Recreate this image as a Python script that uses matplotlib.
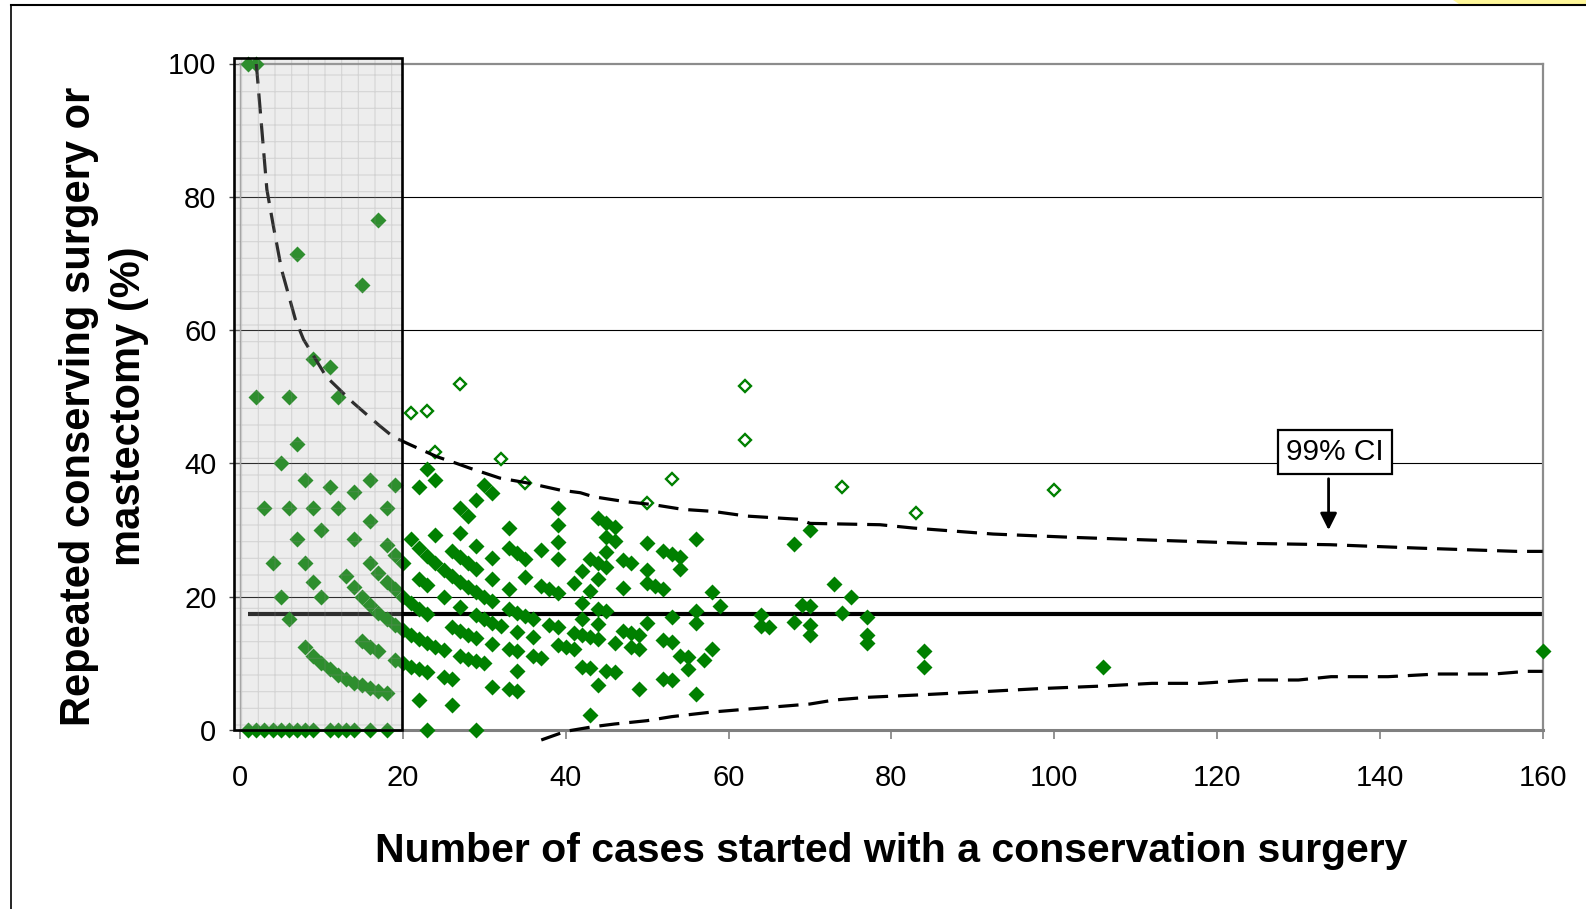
import matplotlib
matplotlib.use("Agg")
import matplotlib.pyplot as plt
from matplotlib.patches import Rectangle, Polygon
from matplotlib.lines import Line2D

plt.rcParams["font.family"] = ["Liberation Sans", "DejaVu Sans"]
plt.rcParams["hatch.linewidth"] = 0.8

# Settings for the figure
FIG_SIZE = (15.86, 9.09)
FIG_DPI = 100
GREEN = "#008000"

# cases inside the funnel (filled diamonds): number of cases / percent
filled_n = [
    1, 2, 17, 7, 15, 9, 11, 2, 6, 12,
    7, 5, 8, 11, 14, 16, 19, 3, 6, 9, 12, 18,
    16, 10, 7, 14, 4, 8, 16, 9, 13, 5, 10, 6,
    14, 15, 16, 17, 18, 19, 20, 18, 19, 20, 17, 18, 19, 20,
    8, 9, 10, 11, 12, 13, 14, 15, 16, 17, 18,
    15, 16, 17, 19, 20,
    1, 2, 3, 4, 5, 6, 7, 8, 9, 11, 12, 13, 14, 16, 18, 23, 29,
    23, 22, 24, 30, 31, 27, 28, 29, 27, 24, 29, 33,
    21, 22, 23, 24, 25, 26, 27, 28, 29, 30, 31,
    26, 27, 28, 29, 31, 31,
    22, 23, 25, 27, 21, 22, 23, 29, 30, 31, 32,
    21, 22, 23, 24, 25, 26, 27, 28, 29, 31,
    21, 22, 23, 27, 28, 29, 30, 25, 26, 31, 22, 26,
    33, 34, 35, 37, 33, 35, 37, 38, 39, 39, 39, 39, 39,
    33, 34, 35, 36, 38, 39, 34, 36, 33, 34, 36, 37, 39, 40, 41, 34, 33, 34,
    44, 45, 46, 45, 46, 45, 43, 44, 45, 42, 44, 41, 43, 47, 48, 47,
    50, 52, 53, 54, 54, 50, 56, 50, 51, 52, 58, 59, 42, 44, 45, 42, 44,
    53, 56, 56, 50, 41, 42, 43, 44, 47, 48, 49, 46, 48, 49, 52, 53,
    58, 57, 55, 54, 55, 42, 43, 45, 46, 44, 52, 53, 49, 56, 43,
    68, 70, 73, 75, 69, 70, 64, 74, 77, 68, 70, 64, 65, 70, 77, 77,
    84, 84, 106, 160,
]
filled_pct = [
    100, 100, 76.5, 71.4, 66.7, 55.6, 54.5, 50, 50, 50,
    42.9, 40, 37.5, 36.4, 35.7, 37.5, 36.8, 33.3, 33.3, 33.3, 33.3, 33.3,
    31.3, 30, 28.6, 28.6, 25, 25, 25, 22.2, 23.1, 20, 20, 16.7,
    21.4, 20, 18.8, 17.6, 16.7, 15.8, 15, 27.8, 26.3, 25, 23.5, 22.2, 21.1, 20,
    12.5, 11.1, 10, 9.1, 8.3, 7.7, 7.1, 6.7, 6.3, 5.9, 5.6,
    13.3, 12.5, 11.8, 10.5, 10,
    0, 0, 0, 0, 0, 0, 0, 0, 0, 0, 0, 0, 0, 0, 0, 0, 0,
    39.1, 36.4, 37.5, 36.7, 35.5, 33.3, 32.1, 34.5, 29.6, 29.2, 27.6, 30.3,
    28.6, 27.3, 26.1, 25, 24, 23.1, 22.2, 21.4, 20.7, 20, 19.4,
    26.9, 25.9, 25, 24.1, 25.8, 22.6,
    22.7, 21.7, 20, 18.5, 19, 18.2, 17.4, 17.2, 16.7, 16.1, 15.6,
    14.3, 13.6, 13, 12.5, 12, 15.4, 14.8, 14.3, 13.8, 12.9,
    9.5, 9.1, 8.7, 11.1, 10.7, 10.3, 10, 8, 7.7, 6.5, 4.5, 3.8,
    27.3, 26.5, 25.7, 27, 21.2, 22.9, 21.6, 21.1, 20.5, 33.3, 30.8, 28.2, 25.6,
    18.2, 17.6, 17.1, 16.7, 15.8, 15.4, 14.7, 13.9, 12.1, 11.8, 11.1, 10.8, 12.8, 12.5, 12.2, 8.8, 6.1, 5.9,
    31.8, 31.1, 30.4, 28.9, 28.3, 26.7, 25.6, 25, 24.4, 23.8, 22.7, 22, 20.9, 25.5, 25, 21.3,
    28, 26.9, 26.4, 25.9, 24.1, 24, 28.6, 22, 21.6, 21.2, 20.7, 18.6, 19, 18.2, 17.8, 16.7, 15.9,
    17, 17.9, 16.1, 16, 14.6, 14.3, 14, 13.6, 14.9, 14.6, 14.3, 13, 12.5, 12.2, 13.5, 13.2,
    12.1, 10.5, 10.9, 11.1, 9.1, 9.5, 9.3, 8.9, 8.7, 6.8, 7.7, 7.5, 6.1, 5.4, 2.3,
    27.9, 30, 21.9, 20, 18.8, 18.6, 17.2, 17.6, 16.9, 16.2, 15.7, 15.6, 15.4, 14.3, 14.3, 13,
    11.9, 9.5, 9.4, 11.9,
]

# cases above the upper limit (open diamonds)
open_n = [21, 23, 27, 24, 32, 35, 53, 50, 62, 62, 74, 83, 100]
open_pct = [47.6, 47.8, 51.9, 41.7, 40.6, 37.1, 37.7, 34, 51.6, 43.5, 36.5, 32.5, 36]

# 99% control limits and overall mean
upper_n = [2, 3.3, 4.1, 5.1, 6.8, 7.8, 10.6, 13.9, 17, 18.8, 20.9, 24.2, 26.6, 28.2,
           31.9, 35.6, 39.3, 41.8, 43.4, 47.1, 50.8, 54.4, 58.1, 62.2, 68.8, 70,
           78.6, 82.7, 92.5, 102.3, 111.8, 124, 133.9, 144.5, 156.8, 160]
upper_pct = [100, 81.1, 75.6, 69.1, 61.6, 58.6, 53, 49.1, 45.8, 44, 42.8, 41, 40, 39.3,
             37.8, 37, 36, 35.6, 35, 34.3, 33.8, 33.1, 32.8, 32.1, 31.6, 31,
             30.8, 30.3, 29.4, 28.9, 28.5, 28, 27.8, 27.3, 26.8, 26.8]
lower_n = [37, 40, 43.4, 46, 50, 53, 58, 62, 66, 70, 73, 77, 84, 92, 98, 106, 112,
           118, 124, 130, 134, 141, 147, 154, 158, 160]
lower_pct = [-1.5, -0.2, 0.5, 0.9, 1.4, 2.0, 2.7, 3.1, 3.5, 3.9, 4.5, 4.9, 5.3, 5.8, 6.2,
             6.6, 7.0, 7.0, 7.5, 7.5, 8.0, 8.0, 8.4, 8.4, 8.8, 8.8]
mean_n = [1, 160]
mean_pct = [17.4, 17.4]

x_ticks = [0, 20, 40, 60, 80, 100, 120, 140, 160]
y_ticks = [0, 20, 40, 60, 80, 100]

fig = plt.figure(figsize=FIG_SIZE, dpi=FIG_DPI)
ax = fig.add_axes([240 / 1586, 1 - 730 / 909, (1542.7 - 240) / 1586, (730 - 63.5) / 909])

ax.set_xlim(0, 160)
ax.set_ylim(0, 100)
ax.set_xticks(x_ticks)
ax.set_yticks(y_ticks)

# grid
for y in y_ticks[1:-1]:
    ax.axhline(y, color="black", lw=0.8, zorder=1)

ax.plot(mean_n, mean_pct, color="black", lw=3.0, solid_capstyle="butt", zorder=2)
ax.plot(filled_n, filled_pct, linestyle="none", marker="D", ms=7.8,
        mfc=GREEN, mec="none", zorder=3, clip_on=False)
ax.plot(open_n, open_pct, linestyle="none", marker="D", ms=6.2,
        mfc="white", mec=GREEN, mew=1.7, zorder=3)
ax.plot(upper_n, upper_pct, color="black", lw=2.3, dashes=(6.3, 3.1), zorder=4)
ax.plot(lower_n, lower_pct, color="black", lw=2.3, dashes=(6.3, 3.1), zorder=4,
        clip_on=False)

# shaded region for small volumes
ax.add_patch(Rectangle((-0.7, 0), 20.6, 100.8, facecolor=(0.72, 0.72, 0.72, 0.25),
                       edgecolor=(0.55, 0.55, 0.55, 0.25), hatch="+", lw=0,
                       zorder=5, clip_on=False))
ax.add_patch(Rectangle((-0.7, 0), 20.6, 100.8, fill=False, edgecolor="black",
                       lw=1.9, zorder=6, clip_on=False))

# 99% CI label
ax.annotate("", xy=(133.7, 30.0), xytext=(133.7, 37.7),
            arrowprops=dict(arrowstyle="-|>", color="black", lw=2,
                            mutation_scale=25, shrinkA=0, shrinkB=0), zorder=7)
ax.text(134.5, 41.7, "99% CI", fontsize=21.5, ha="center", va="center", zorder=8,
        bbox=dict(boxstyle="square,pad=0.28", fc="white", ec="black", lw=1.6))

# spines and ticks
for side in ["top", "right"]:
    ax.spines[side].set_color("#8c8c8c")
    ax.spines[side].set_linewidth(1.6)
ax.spines["bottom"].set_color("#808080")
ax.spines["bottom"].set_linewidth(2.2)
ax.spines["left"].set_color("#a0a0a0")
ax.spines["left"].set_linewidth(1.0)

ax.tick_params(axis="x", direction="out", length=6.5, width=1.2, color="#808080",
               labelsize=21, pad=18)
ax.tick_params(axis="y", direction="out", length=8, width=1.0, color="#404040",
               labelsize=21, pad=9)

fig.text(891.5 / 1586, 1 - 862 / 909, "Number of cases started with a conservation surgery",
         fontsize=29.5, fontweight="bold", ha="center", va="baseline")
fig.text(104 / 1586, 1 - 406 / 909, "Repeated conserving surgery or\nmastectomy (%)",
         fontsize=30, fontweight="bold", ha="center", va="center", rotation=90,
         multialignment="center", linespacing=1.3)

# outer frame of the pasted chart
fig.add_artist(Line2D([11 / 1586, 1], [1 - 5 / 909, 1 - 5 / 909], color="black", lw=1.5))
fig.add_artist(Line2D([11 / 1586, 11 / 1586], [0, 1 - 5 / 909], color="black", lw=1.2))
fig.add_artist(Polygon([[1453 / 1586, 1], [1, 1], [1, 1 - 4 / 909], [1459 / 1586, 1 - 4 / 909]],
                       closed=True, facecolor="#fff799", edgecolor="none"))

fig.savefig("out.png", dpi=FIG_DPI)
